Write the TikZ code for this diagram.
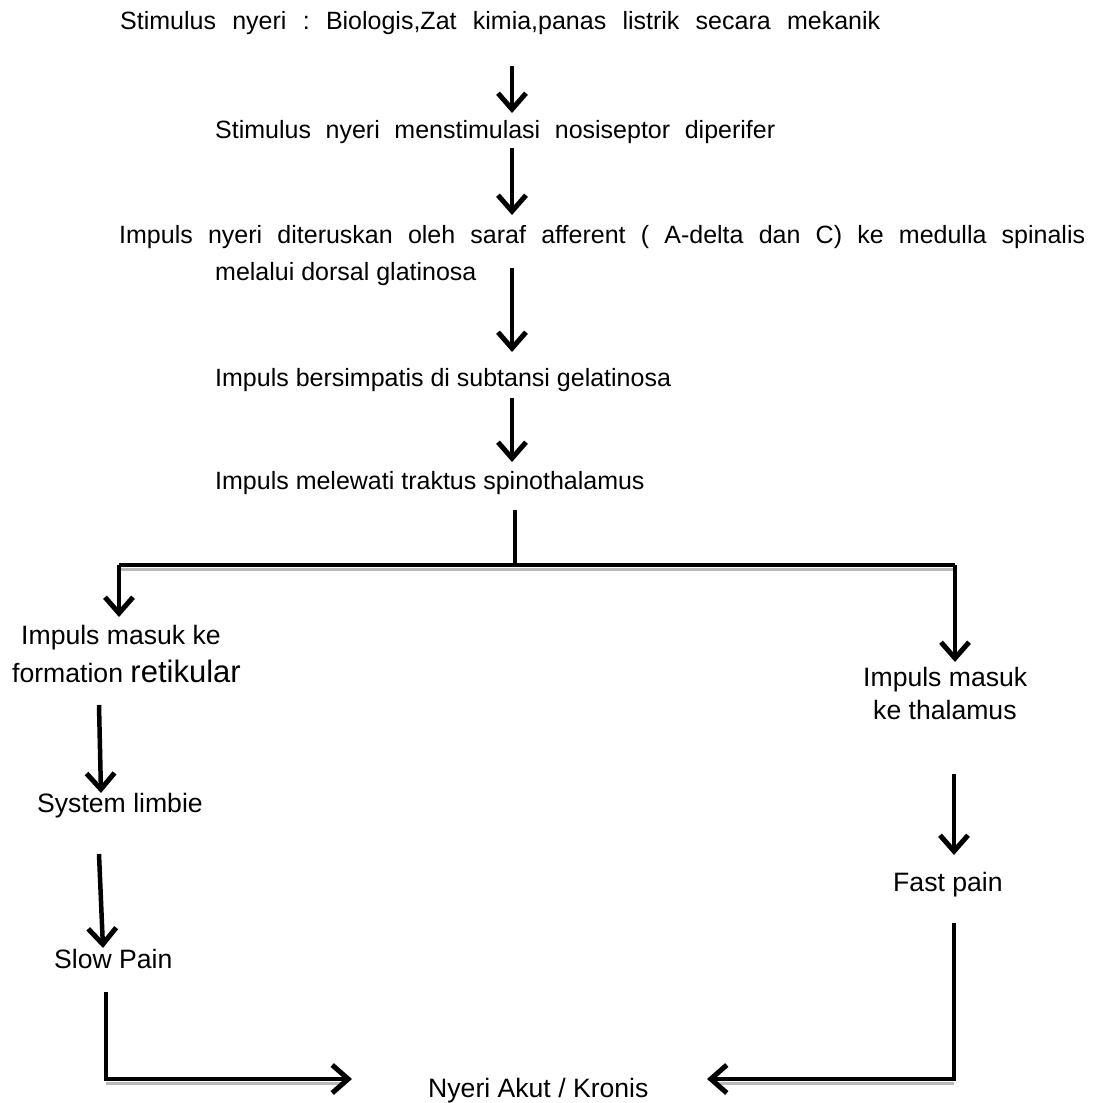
\documentclass[tikz,border=0pt]{standalone}
\usepackage{fontspec}
\setmainfont{Liberation Sans}
\usetikzlibrary{arrows.meta}
\frenchspacing
\begin{document}
\begin{tikzpicture}[x=1pt,y=-1pt,
  txt/.style={anchor=base west,inner sep=0pt,font=\fontsize{25}{30}\selectfont},
  txtb/.style={anchor=base west,inner sep=0pt,font=\fontsize{26.6}{31}\selectfont},
  arr/.style={line width=4.5pt,-{Straight Barb[length=16pt,width=28pt,line width=5pt]}},
  ln/.style={line width=4.5pt},
  shadowline/.style={line width=3pt,gray!55}]
\useasboundingbox (0,0) rectangle (1097,1103);
\node[txt] (t1) at (120,29) {\makebox[760pt][s]{Stimulus nyeri : Biologis,Zat kimia,panas listrik secara mekanik}};
\node[txt] (t2) at (215,138) {\makebox[560pt][s]{Stimulus nyeri menstimulasi nosiseptor diperifer}};
\node[txt] (t3) at (119,243) {\makebox[966pt][s]{Impuls nyeri diteruskan oleh saraf afferent ( A-delta dan C) ke medulla spinalis}};
\node[txt] (t3b) at (215,280) {melalui dorsal glatinosa};
\node[txt] (t4) at (215,386) {Impuls bersimpatis di subtansi gelatinosa};
\node[txt] (t5) at (215,489) {Impuls melewati traktus spinothalamus};
\node[txtb] (l1a) at (21,644) {Impuls masuk ke};
\node[txtb] (l1b) at (12,682) {formation {\fontsize{31}{35}\selectfont retikular}};
\node[txtb] (r1a) at (863,686) {Impuls masuk};
\node[txtb] (r1b) at (873,719) {ke thalamus};
\node[txtb] (l2) at (37,812) {System limbie};
\node[txtb] (l3) at (54,968) {Slow Pain};
\node[txtb] (r2) at (893,891) {Fast pain};
\node[txtb] (fin) at (428,1097) {Nyeri Akut / Kronis};
% coordinates
\coordinate (a1s) at (512,66); \coordinate (a1e) at (512,113);
\coordinate (a2s) at (512,148); \coordinate (a2e) at (512,215);
\coordinate (a3s) at (512,268); \coordinate (a3e) at (512,352);
\coordinate (a4s) at (512,398); \coordinate (a4e) at (512,462);
\coordinate (bs) at (515,510); \coordinate (bm) at (515,565);
\coordinate (bl) at (119,565); \coordinate (br) at (955,565);
\coordinate (ble) at (119,617); \coordinate (bre) at (955,662);
\coordinate (l1s) at (99,705); \coordinate (l1e) at (101,793);
\coordinate (l2s) at (99,854); \coordinate (l2e) at (103,948);
\coordinate (r1s) at (954,774); \coordinate (r1e) at (954,855);
\coordinate (l3s) at (106,992); \coordinate (l3c) at (106,1079); \coordinate (l3e) at (352,1079);
\coordinate (r2s) at (954,923); \coordinate (r2c) at (954,1079); \coordinate (r2e) at (707,1079);
% shadows
\draw[shadowline] (119,569.5) -- (955,569.5);
\draw[shadowline] (106,1083.5) -- (342,1083.5);
\draw[shadowline] (954,1083.5) -- (717,1083.5);
% arrows
\draw[arr] (a1s) -- (a1e);
\draw[arr] (a2s) -- (a2e);
\draw[arr] (a3s) -- (a3e);
\draw[arr] (a4s) -- (a4e);
\draw[ln] (bs) -- (bm);
\draw[ln] (bl) -- (br);
\draw[arr] (bl) -- (ble);
\draw[arr] (br) -- (bre);
\draw[arr] (l1s) -- (l1e);
\draw[arr] (l2s) -- (l2e);
\draw[arr] (r1s) -- (r1e);
\draw[arr] (l3s) -- (l3c) -- (l3e);
\draw[arr] (r2s) -- (r2c) -- (r2e);
\end{tikzpicture}
\end{document}
